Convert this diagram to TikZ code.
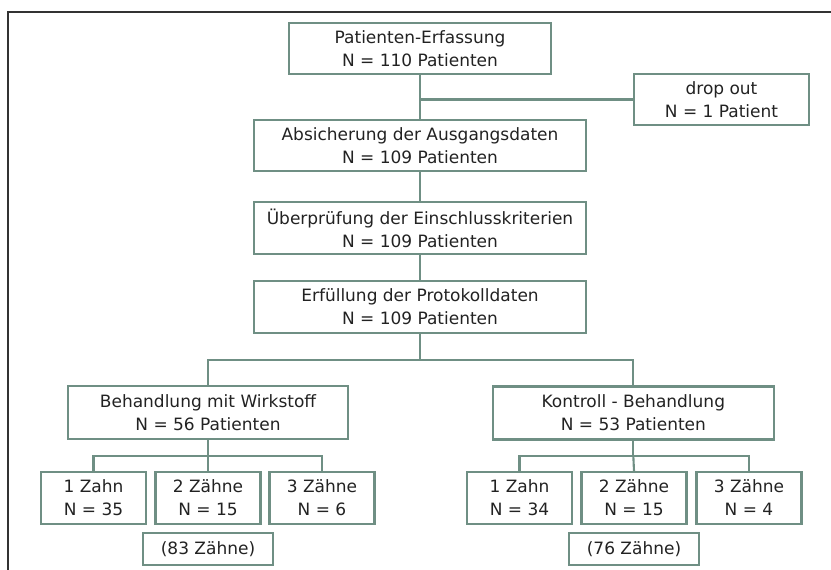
\documentclass[tikz,border=0pt]{standalone}
\usepackage{fontspec}
\setmainfont{DejaVu Sans}
\usepackage{xcolor}
\usetikzlibrary{positioning,calc}
\definecolor{flowLine}{HTML}{6F8F84}
\definecolor{frameGray}{HTML}{333333}
\definecolor{textGray}{HTML}{222222}

\begin{document}
\begin{tikzpicture}[font=\fontsize{14.5}{19.6}\selectfont,text=textGray,
      stage/.style={draw=flowLine,line width=1.8pt,align=center,minimum height=1.55cm,inner sep=2pt},
      toothbox/.style={stage,minimum width=3.15cm},
      sumbox/.style={draw=flowLine,line width=1.8pt,minimum width=3.9cm,minimum height=0.96cm,inner sep=1pt},
      link/.style={draw=flowLine,line width=1.8pt}]
    \useasboundingbox (0,0) rectangle (24.93,-17.1);
    % frame
    \coordinate (frameTR) at (24.93,-0.36);
    \coordinate (frameTL) at (0.24,-0.36);
    \coordinate (frameBL) at (0.24,-17.1);
    \draw[frameGray,line width=1.3pt] (frameTR) -- (frameTL) -- (frameBL);
    % main flow
    \node[stage,minimum width=7.86cm] (erfassung) at (12.6,-1.455) {Patienten-Erfassung\\N = 110 Patienten};
    \node[stage,minimum width=5.25cm,minimum height=1.53cm] (dropout) at (21.645,-2.985) {drop out\\N = 1 Patient};
    \node[stage,minimum width=9.96cm,minimum height=1.53cm] (absicherung) at (12.6,-4.365) {Absicherung der Ausgangsdaten\\N = 109 Patienten};
    \node[stage,minimum width=9.96cm] (pruefung) at (12.6,-6.84) {Überprüfung der Einschlusskriterien\\N = 109 Patienten};
    \node[stage,minimum width=9.96cm] (protokoll) at (12.6,-9.21) {Erfüllung der Protokolldaten\\N = 109 Patienten};
    \node[stage,minimum width=8.4cm,minimum height=1.59cm] (wirkstoff) at (6.24,-12.375) {Behandlung mit Wirkstoff\\N = 56 Patienten};
    \node[stage,minimum width=8.43cm,minimum height=1.59cm] (kontroll) at (19.0,-12.39) {Kontroll - Behandlung\\N = 53 Patienten};
    % teeth per group
    \node[toothbox] (wz1) at (2.805,-14.94) {1 Zahn\\N = 35};
    \node[toothbox] (wz2) at (6.24,-14.94) {2 Zähne\\N = 15};
    \node[toothbox] (wz3) at (9.66,-14.94) {3 Zähne\\N = 6};
    \node[toothbox] (kz1) at (15.585,-14.94) {1 Zahn\\N = 34};
    \node[toothbox] (kz2) at (19.02,-14.94) {2 Zähne\\N = 15};
    \node[toothbox] (kz3) at (22.47,-14.94) {3 Zähne\\N = 4};
    \node[sumbox] (wsum) at (6.24,-16.47) {(83 Zähne)};
    \node[sumbox] (ksum) at (19.02,-16.47) {(76 Zähne)};
    % connectors
    \draw[link] (erfassung) -- (absicherung);
    \draw[link] (erfassung.south |- dropout.west) -- (dropout.west);
    \draw[link] (absicherung) -- (pruefung);
    \draw[link] (pruefung) -- (protokoll);
    \coordinate (split) at (12.6,-10.8);
    \draw[link] (protokoll.south) -- (split);
    \draw[link] (wirkstoff.north) |- (split) -| (kontroll.north);
    \coordinate (wsplit) at (6.24,-13.68);
    \coordinate (ksplit) at (19.0,-13.68);
    \draw[link] (wirkstoff.south) -- (wsplit);
    \draw[link] (wz1.north) |- (wsplit) -| (wz3.north);
    \draw[link] (wsplit) -- (wz2.north);
    \draw[link] (kontroll.south) -- (ksplit);
    \draw[link] (kz1.north) |- (ksplit) -| (kz3.north);
    \draw[link] (ksplit) -- (kz2.north);
\end{tikzpicture}
\end{document}
